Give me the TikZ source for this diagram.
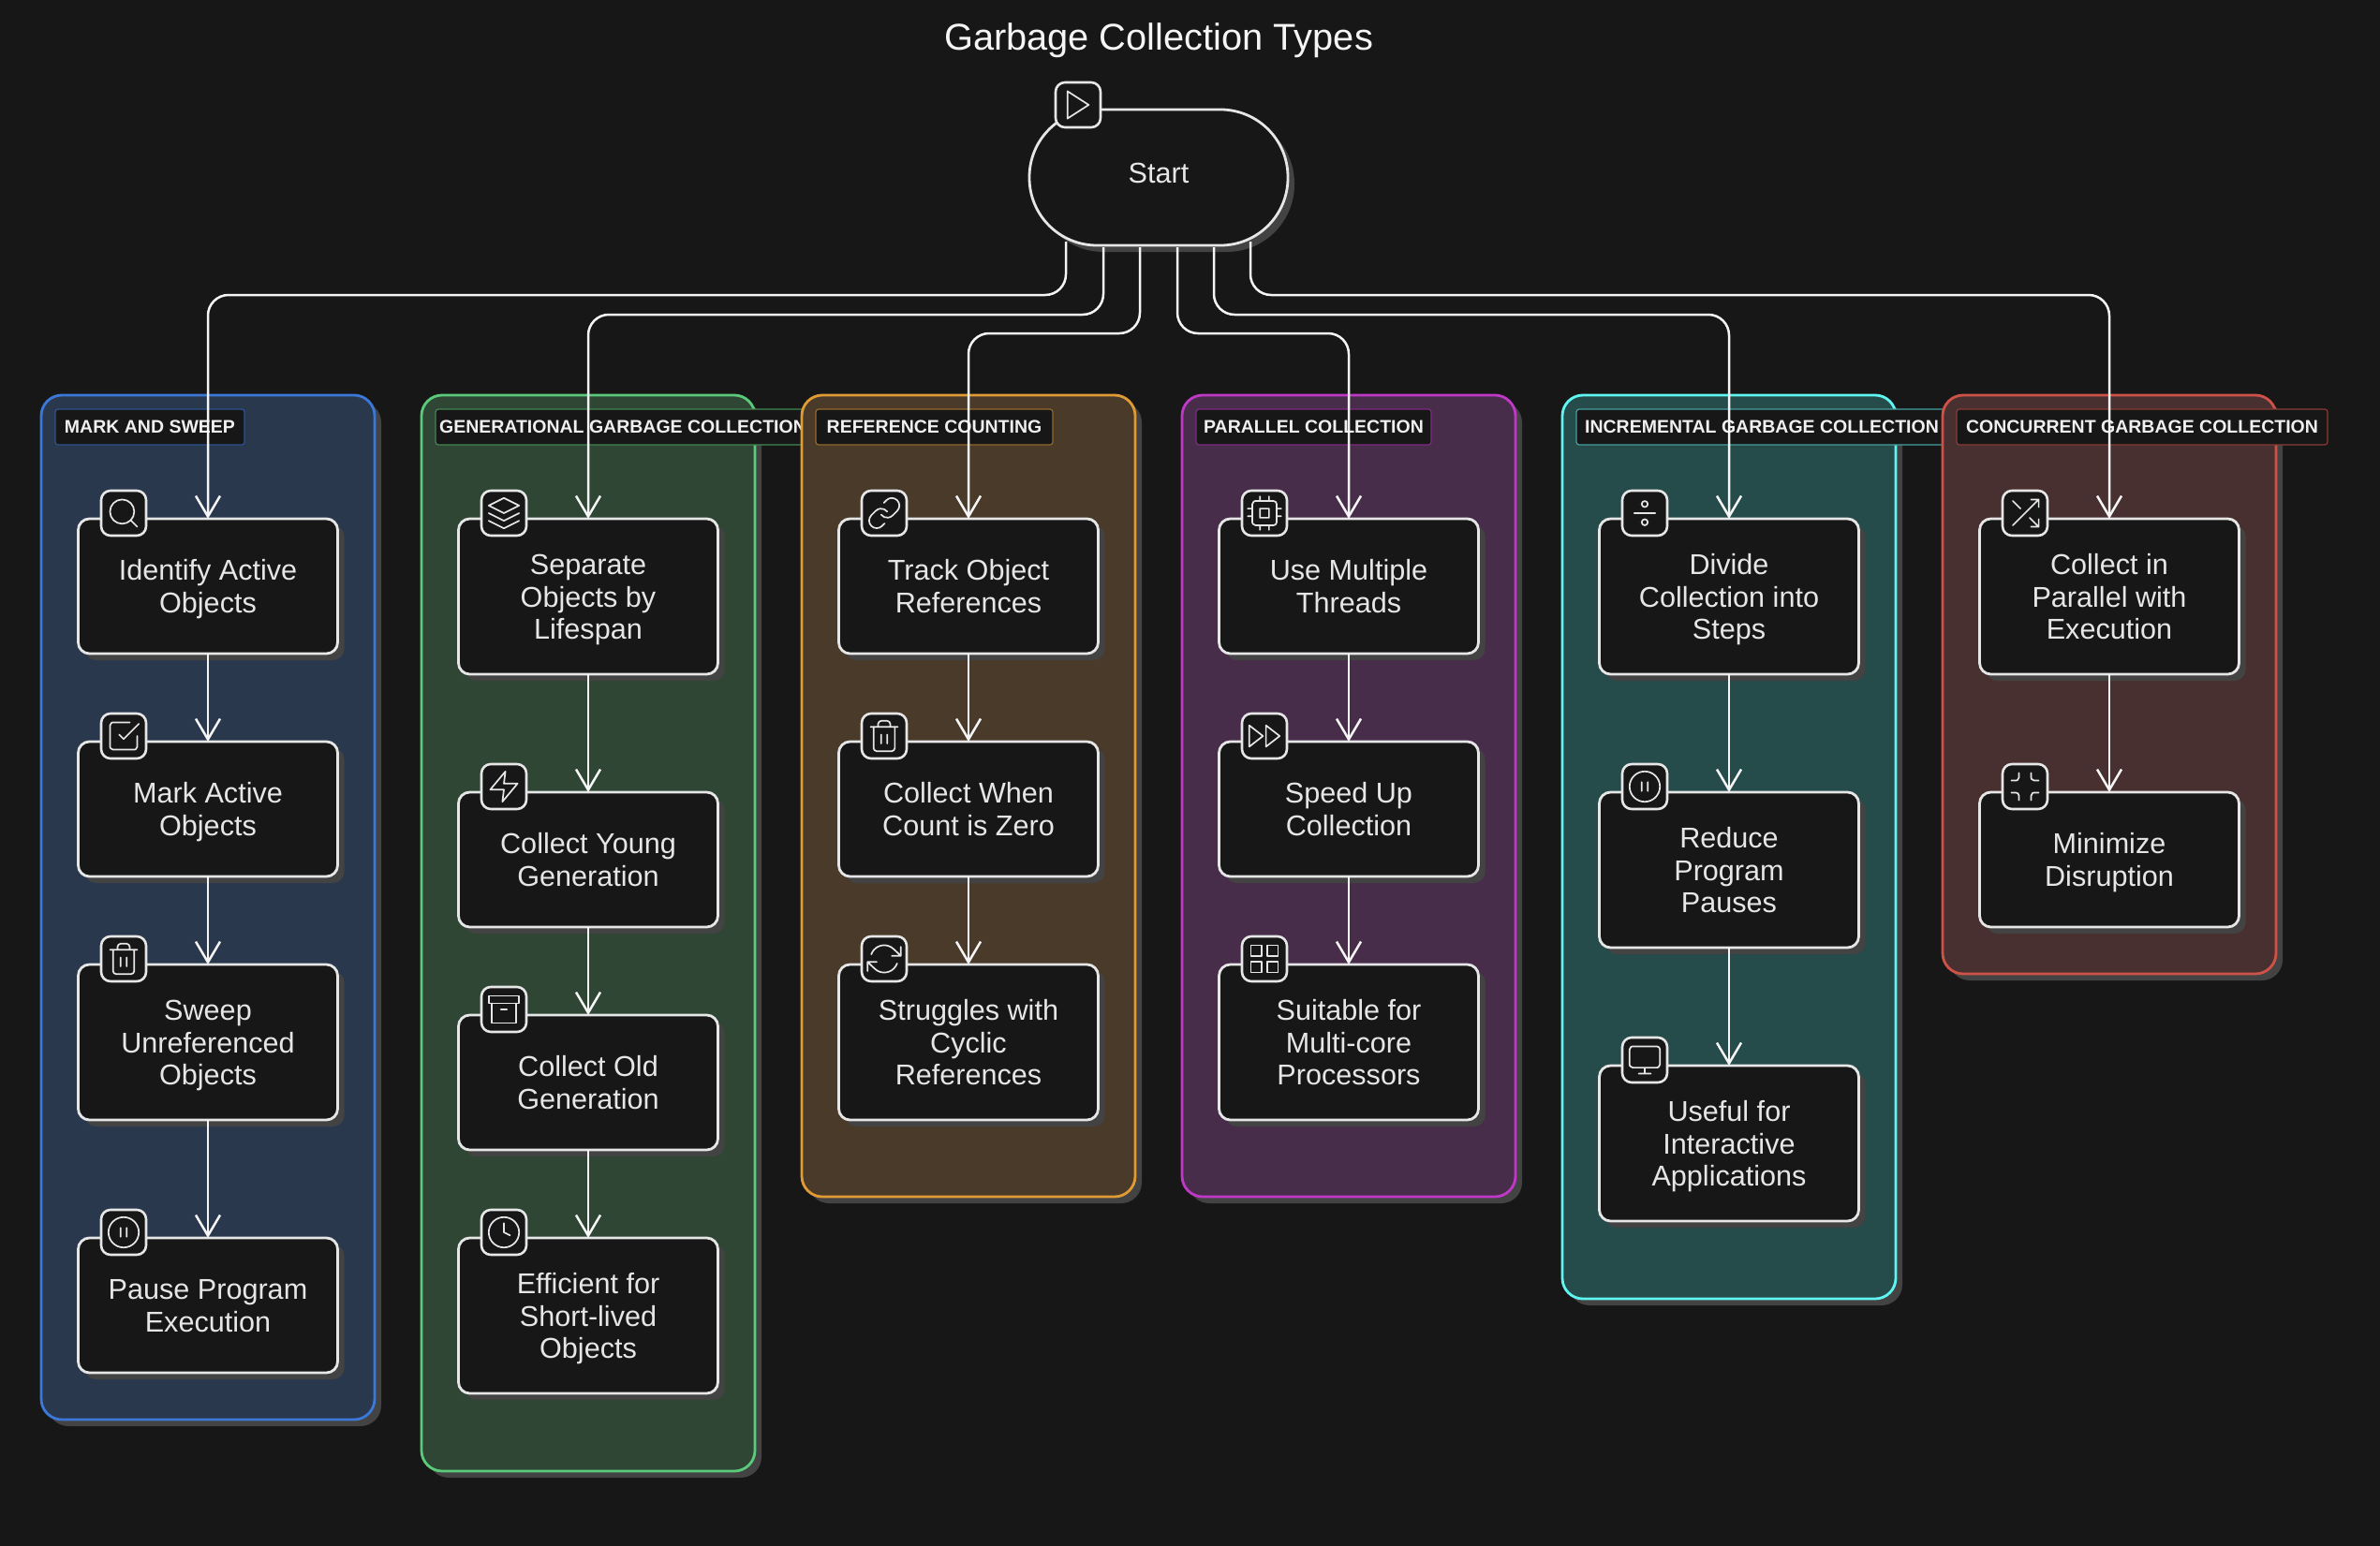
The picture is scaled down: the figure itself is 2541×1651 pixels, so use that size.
\documentclass[tikz,border=0pt]{standalone}
\usepackage{fontspec}
\setmainfont{Liberation Sans}
\newfontfamily\lblfont{Liberation Sans Bold}
\usetikzlibrary{arrows.meta,shadows,svg.path}
\definecolor{bgc}{HTML}{171717}
\definecolor{shc}{HTML}{434343}
\definecolor{inkc}{HTML}{E6E6E6}
\definecolor{lblc}{HTML}{F0F0F0}
\definecolor{bluef}{HTML}{2A384E}\definecolor{blued}{HTML}{3B78D8}
\definecolor{greenf}{HTML}{2F4635}\definecolor{greend}{HTML}{5ACB7A}
\definecolor{orangef}{HTML}{4A3A2A}\definecolor{oranged}{HTML}{E09B35}
\definecolor{purplef}{HTML}{482D4A}\definecolor{purpled}{HTML}{C038C8}
\definecolor{cyanf}{HTML}{254B4B}\definecolor{cyand}{HTML}{5FF5F0}
\definecolor{redf}{HTML}{493030}\definecolor{redd}{HTML}{CF5248}
\tikzset{
  shadowed/.style={drop shadow={shadow xshift=7pt,shadow yshift=-7pt,fill=shc,opacity=1}},
  grp/.style={shadowed,rectangle,rounded corners=22pt,line width=2.8pt,minimum width=356pt,inner sep=0pt,outer sep=0pt},
  lbl/.style={rectangle,rounded corners=3pt,line width=1.2pt,fill=bgc,anchor=west,minimum height=38pt,inner sep=0pt,outer sep=0pt,text=lblc,font=\lblfont\fontsize{19.5pt}{24pt}\selectfont},
  stepbox/.style={shadowed,rectangle,rounded corners=12pt,draw=inkc,fill=bgc,line width=2.8pt,minimum width=277pt,inner sep=0pt,outer sep=0pt,text=inkc,align=center,
    font=\fontsize{30.6pt}{34.4pt}\selectfont},
  iconbox/.style={rectangle,rounded corners=10pt,draw=inkc,fill=bgc,line width=2.6pt,minimum width=48pt,minimum height=48pt,inner sep=0pt,outer sep=0pt},
  iconline/.style={draw=inkc,line width=1.7pt,line cap=round,line join=round},
  flow/.style={draw=white!96!black,line width=2.5pt,-{Straight Barb[length=22pt,width=26pt,line width=2.5pt]}},
  trunk/.style={flow,rounded corners=22pt},
}
% icon drawn in a 24-unit view box centred on the icon node position
\newcommand\icn[3]{\edef\icntmp{\noexpand\draw[iconline,shift={(#1,#2)},xscale=1.62,yscale=-1.62,xshift=-12pt,yshift=-12pt] svg {#3};}\icntmp}
\def\iSearch{M 19 11 a 8 8 0 1 1 -16 0 a 8 8 0 1 1 16 0 M 21 21 L 16.65 16.65}
\def\iCheck{M 9 11 l 3 3 L 22 4 M 21 12 v 7 a 2 2 0 0 1 -2 2 H 5 a 2 2 0 0 1 -2 -2 V 5 a 2 2 0 0 1 2 -2 h 11}
\def\iTrash{M 3 6 h 18 M 19 6 v 14 c 0 1 -1 2 -2 2 H 7 c -1 0 -2 -1 -2 -2 V 6 M 8 6 V 4 c 0 -1 1 -2 2 -2 h 4 c 1 0 2 1 2 2 v 2 M 10 11 v 6 M 14 11 v 6}
\def\iPause{M 22 12 a 10 10 0 1 1 -20 0 a 10 10 0 1 1 20 0 M 10 15 V 9 M 14 15 V 9}
\def\iLayers{M 12 2 L 2 7 L 12 12 L 22 7 Z M 2 17 l 10 5 l 10 -5 M 2 12 l 10 5 l 10 -5}
\def\iZap{M 13 2 L 3 14 H 12 L 11 22 L 21 10 H 12 Z}
\def\iArchive{M 2 3 H 22 V 8 H 2 Z M 4 8 V 21 H 20 V 8 M 10 12 h 4}
\def\iClock{M 22 12 a 10 10 0 1 1 -20 0 a 10 10 0 1 1 20 0 M 12 6 V 12 L 16 14}
\def\iLink{M 10 13 a 5 5 0 0 0 7.54 0.54 l 3 -3 a 5 5 0 0 0 -7.07 -7.07 l -1.72 1.71 M 14 11 a 5 5 0 0 0 -7.54 -0.54 l -3 3 a 5 5 0 0 0 7.07 7.07 l 1.71 -1.71}
\def\iRefresh{M 23 4 v 6 h -6 M 1 20 v -6 h 6 M 3.51 9 a 9 9 0 0 1 14.85 -3.36 L 23 10 M 1 14 l 4.64 4.36 A 9 9 0 0 0 20.49 15}
\def\iCpu{M 6 4 H 18 a 2 2 0 0 1 2 2 V 18 a 2 2 0 0 1 -2 2 H 6 a 2 2 0 0 1 -2 -2 V 6 a 2 2 0 0 1 2 -2 Z M 9 9 h 6 v 6 h -6 Z M 9 1 v 3 M 15 1 v 3 M 9 20 v 3 M 15 20 v 3 M 20 9 h 3 M 20 14 h 3 M 1 9 h 3 M 1 14 h 3}
\def\iFast{M 13 19 L 22 12 L 13 5 Z M 2 19 L 11 12 L 2 5 Z}
\def\iGrid{M 3 3 h 7 v 7 h -7 Z M 14 3 h 7 v 7 h -7 Z M 14 14 h 7 v 7 h -7 Z M 3 14 h 7 v 7 h -7 Z}
\def\iDivide{M 14 6 a 2 2 0 1 1 -4 0 a 2 2 0 1 1 4 0 M 5 12 H 19 M 14 18 a 2 2 0 1 1 -4 0 a 2 2 0 1 1 4 0}
\def\iMonitor{M 4 3 H 20 a 2 2 0 0 1 2 2 V 15 a 2 2 0 0 1 -2 2 H 4 a 2 2 0 0 1 -2 -2 V 5 a 2 2 0 0 1 2 -2 Z M 8 21 H 16 M 12 17 V 21}
\def\iShuffle{M 16 3 H 21 V 8 M 4 20 L 21 3 M 21 16 V 21 H 16 M 15 15 L 21 21 M 4 4 L 9 9}
\def\iMinimize{M 8 3 v 3 a 2 2 0 0 1 -2 2 H 3 M 21 8 h -3 a 2 2 0 0 1 -2 -2 V 3 M 16 21 v -3 a 2 2 0 0 1 2 -2 h 3 M 3 16 h 3 a 2 2 0 0 1 2 2 v 3}
\def\iPlay{M 5 3 L 19 12 L 5 21 Z}
% \stepn{name}{centre x}{top}{bottom}{icon}{text}
\newcommand\stepn[6]{%
  \pgfmathsetmacro\cy{(#3+#4)/2}\pgfmathsetmacro\hh{#4-#3}%
  \pgfmathsetmacro\ix{#2-90}\pgfmathsetmacro\iy{#3-6}%
  \node[stepbox,minimum height=\hh pt] (#1) at (#2,\cy) {\rule{0pt}{29pt}#6\rule[-7pt]{0pt}{7pt}};
  \node[iconbox] (#1i) at (\ix,\iy) {};
  \icn{\ix}{\iy}{#5}
}
% \grpn{name}{left}{bottom}{fill}{line}{label width}{text}
\newcommand\grpn[7]{%
  \pgfmathsetmacro\cy{(422+#3)/2}\pgfmathsetmacro\hh{#3-422}%
  \pgfmathsetmacro\cx{#2+178}\pgfmathsetmacro\lx{#2+15}%
  \node[grp,fill=#4,draw=#5,minimum height=\hh pt] (#1) at (\cx,\cy) {};
  \node[lbl,draw=#5!62!bgc,minimum width=#6 pt] (#1l) at (\lx,456) {\raisebox{-3pt}{#7}};
}
\begin{document}
\begin{tikzpicture}[x=1pt,y=-1pt]
\path[use as bounding box] (0,0) rectangle (2541,1651);
\fill[bgc] (0,0) rectangle (2541,1651);
\node[text=white!96!black,font=\fontsize{39.8pt}{44pt}\selectfont,inner sep=0pt] (title) at (1237,43) {Garbage Collection Types};

\node[shadowed,rectangle,rounded corners=72pt,draw=inkc,fill=bgc,line width=2.8pt,minimum width=276pt,minimum height=145pt,inner sep=0pt,outer sep=0pt,text=inkc,font=\fontsize{30.6pt}{34.4pt}\selectfont] (start) at (1237,189.5) {\raisebox{9pt}{Start}};
\node[iconbox] (starti) at (1151,112) {};
\icn{1151}{112}{\iPlay}

\grpn{ga}{44}{1516}{bluef}{blued}{202}{MARK AND SWEEP}
\stepn{a1}{222}{554}{698}{\iSearch}{Identify Active\\Objects}
\stepn{a2}{222}{792}{936}{\iCheck}{Mark Active\\Objects}
\stepn{a3}{222}{1030}{1196}{\iTrash}{Sweep\\Unreferenced\\Objects}
\stepn{a4}{222}{1322}{1466}{\iPause}{Pause Program\\Execution}

\grpn{gb}{450}{1571}{greenf}{greend}{400}{GENERATIONAL GARBAGE COLLECTION}
\stepn{b1}{628}{554}{720}{\iLayers}{Separate\\Objects by\\Lifespan}
\stepn{b2}{628}{846}{990}{\iZap}{Collect Young\\Generation}
\stepn{b3}{628}{1084}{1228}{\iArchive}{Collect Old\\Generation}
\stepn{b4}{628}{1322}{1488}{\iClock}{Efficient for\\Short-lived\\Objects}

\grpn{gc}{856}{1278}{orangef}{oranged}{253}{REFERENCE COUNTING}
\stepn{c1}{1034}{554}{698}{\iLink}{Track Object\\References}
\stepn{c2}{1034}{792}{936}{\iTrash}{Collect When\\Count is Zero}
\stepn{c3}{1034}{1030}{1196}{\iRefresh}{Struggles with\\Cyclic\\References}

\grpn{gd}{1262}{1278}{purplef}{purpled}{251}{PARALLEL COLLECTION}
\stepn{d1}{1440}{554}{698}{\iCpu}{Use Multiple\\Threads}
\stepn{d2}{1440}{792}{936}{\iFast}{Speed Up\\Collection}
\stepn{d3}{1440}{1030}{1196}{\iGrid}{Suitable for\\Multi-core\\Processors}

\grpn{ge}{1668}{1387}{cyanf}{cyand}{396}{INCREMENTAL GARBAGE COLLECTION}
\stepn{e1}{1846}{554}{720}{\iDivide}{Divide\\Collection into\\Steps}
\stepn{e2}{1846}{846}{1012}{\iPause}{Reduce\\Program\\Pauses}
\stepn{e3}{1846}{1138}{1304}{\iMonitor}{Useful for\\Interactive\\Applications}

\grpn{gf}{2074}{1040}{redf}{redd}{396}{CONCURRENT GARBAGE COLLECTION}
\stepn{f1}{2252}{554}{720}{\iShuffle}{Collect in\\Parallel with\\Execution}
\stepn{f2}{2252}{846}{990}{\iMinimize}{Minimize\\Disruption}

% connectors
\coordinate (s1) at (1138,258); \coordinate (s2) at (1178,264); \coordinate (s3) at (1217,264);
\coordinate (s4) at (1257,264); \coordinate (s5) at (1296,264); \coordinate (s6) at (1335,258);
\coordinate (h1) at (0,315); \coordinate (h2) at (0,336); \coordinate (h3) at (0,356);
\draw[trunk] (s1) -- (s1 |- h1) -- (a1.north |- h1) -- (a1.north);
\draw[trunk] (s2) -- (s2 |- h2) -- (b1.north |- h2) -- (b1.north);
\draw[trunk] (s3) -- (s3 |- h3) -- (c1.north |- h3) -- (c1.north);
\draw[trunk] (s4) -- (s4 |- h3) -- (d1.north |- h3) -- (d1.north);
\draw[trunk] (s5) -- (s5 |- h2) -- (e1.north |- h2) -- (e1.north);
\draw[trunk] (s6) -- (s6 |- h1) -- (f1.north |- h1) -- (f1.north);
\draw[flow] (a1.south) -- (a2.north);
\draw[flow] (a2.south) -- (a3.north);
\draw[flow] (a3.south) -- (a4.north);
\draw[flow] (b1.south) -- (b2.north);
\draw[flow] (b2.south) -- (b3.north);
\draw[flow] (b3.south) -- (b4.north);
\draw[flow] (c1.south) -- (c2.north);
\draw[flow] (c2.south) -- (c3.north);
\draw[flow] (d1.south) -- (d2.north);
\draw[flow] (d2.south) -- (d3.north);
\draw[flow] (e1.south) -- (e2.north);
\draw[flow] (e2.south) -- (e3.north);
\draw[flow] (f1.south) -- (f2.north);
\end{tikzpicture}
\end{document}
